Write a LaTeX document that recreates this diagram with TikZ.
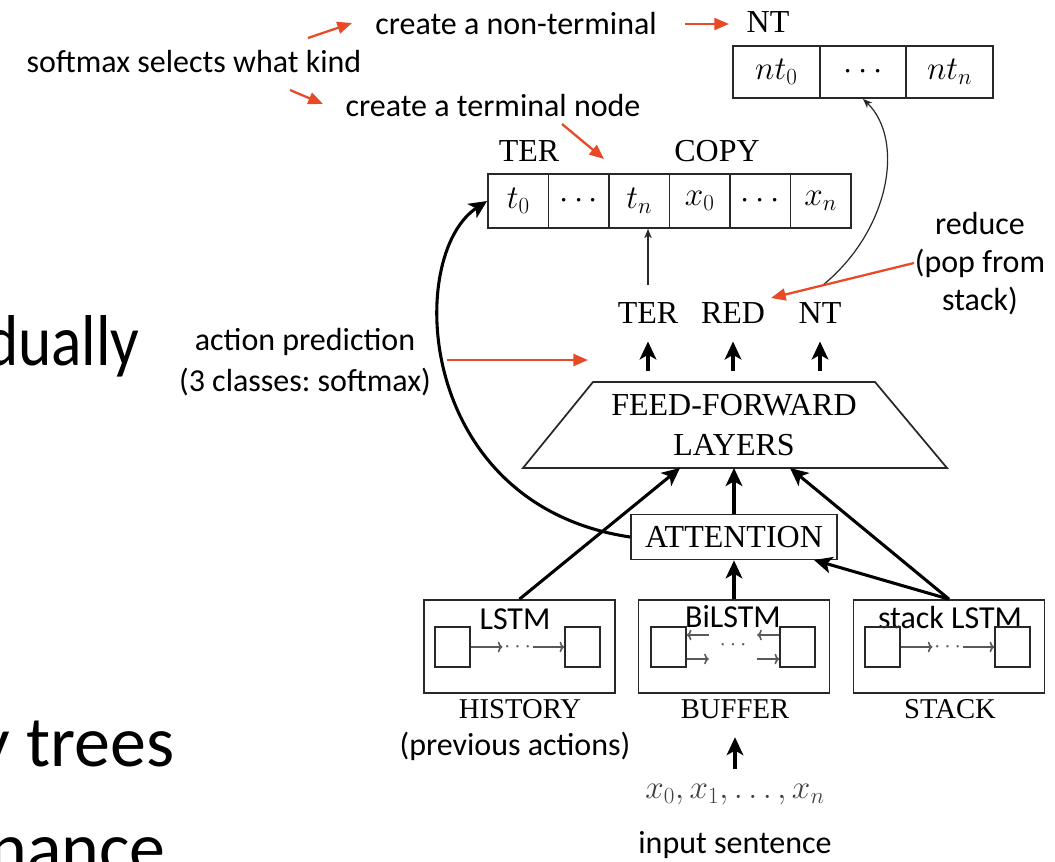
\documentclass[tikz,border=0pt]{standalone}
\usepackage{fontspec}
\setmainfont{Liberation Serif}
\newfontfamily\annfont{Carlito}
\usetikzlibrary{arrows.meta,calc}
\definecolor{annred}{RGB}{232,74,40}
\definecolor{boxgray}{RGB}{40,40,40}
\frenchspacing
\begin{document}
\begin{tikzpicture}[x=0.75pt,y=-0.75pt,
  serif/.style={font=\fontsize{24}{30}\selectfont, inner sep=0pt},
  boxlabel/.style={font=\fontsize{21.5}{24}\selectfont, inner sep=0pt},
  ann/.style={font=\annfont\fontsize{24}{29}\selectfont, inner sep=0pt, align=center},
  slide/.style={font=\annfont\fontsize{54}{60}\selectfont, inner sep=0pt},
  cell/.style={draw=boxgray, line width=1.3pt, minimum width=45.4pt, minimum height=40.5pt, inner sep=0pt, font=\fontsize{24}{26}\selectfont},
  ntcell/.style={cell, minimum width=65pt, minimum height=39pt},
  lstmbox/.style={draw=boxgray, line width=1.3pt, minimum width=143.25pt, minimum height=69.75pt, inner sep=0pt},
  sq/.style={draw=boxgray, line width=1.2pt, minimum width=26.25pt, minimum height=30pt, inner sep=0pt},
  lbl/.style={serif, outer sep=13.5pt},
  bigarrow/.style={line width=2.3pt, -{Stealth[length=13.5pt,width=12.5pt,inset=3.5pt]}},
  thinarrow/.style={line width=0.9pt, draw=boxgray, -{Stealth[length=7pt,width=5.5pt,inset=2pt]}},
  smallarrow/.style={line width=1.2pt, draw=black!65, -{To[length=3.5pt,width=8pt]}},
  redarrow/.style={draw=annred, line width=1.7pt, -{Triangle[length=11pt,width=9pt]}},
  dotsnode/.style={inner sep=1pt, text=black!65, font=\fontsize{18}{18}\selectfont},
]
\useasboundingbox (0,0) rectangle (1055,861);
\clip (0,0) rectangle (1055,861);
\fill[white] (0,0) rectangle (1055,861);

% slide text cut off at the left
\node[slide, anchor=base east] (s1) at (140,365) {\scalebox{0.88}[1]{dually}};
\node[slide, anchor=base east] (s2) at (175,766) {y trees};
\node[slide, anchor=base east] (s3) at (166,872) {nance};

% annotations
\node[ann] (smx) at (194,62) {softmax selects what kind};
\node[ann] (cnt) at (516,24) {create a non-terminal};
\node[ann] (ctn) at (493,106) {create a terminal node};
\node[ann, font=\annfont\fontsize{24}{30.75}\selectfont] (ap) at (305,362) {action prediction\\(3 classes: softmax)};
\node[ann, font=\annfont\fontsize{24}{28.5}\selectfont] (rn) at (980,264) {reduce\\(pop from\\stack)};
\node[ann] (pa) at (515,746) {(previous actions)};
\node[ann] (inp) at (735,845) {input sentence};

% top labels
\node[serif] (ntl) at (768,22) {NT};
\node[serif] (terl) at (529,151) {TER};
\node[serif] (copyl) at (717,151) {COPY};

% NT row
\node[ntcell] (nt0) at (776.3,72) {$nt_0$};
\node[ntcell] (ntd) at (863,72) {$\cdots$};
\node[ntcell] (ntn) at (949.7,72) {$nt_n$};

% TER / COPY row
\node[cell] (t0) at (518.25,201) {$t_0$};
\node[cell] (td) at (578.75,201) {$\cdots$};
\node[cell] (tn) at (639.25,201) {$t_n$};
\node[cell] (x0) at (699.75,201) {$x_0$};
\node[cell] (xd) at (760.25,201) {$\cdots$};
\node[cell] (xn) at (820.75,201) {$x_n$};

% action labels
\node[lbl] (ter) at (648,313) {TER};
\node[lbl] (red) at (733,313) {RED};
\node[lbl] (nt) at (820,313) {NT};

% feed-forward trapezoid
\coordinate (ffTL) at (593,382);
\coordinate (ffTR) at (875,382);
\coordinate (ffBR) at (947,468);
\coordinate (ffBL) at (523,468);
\draw[draw=boxgray, line width=1.3pt] (ffTL) -- (ffTR) -- (ffBR) -- (ffBL) -- cycle;
\node[serif, align=center] (ff) at (734,425) {FEED-FORWARD\\LAYERS};
\coordinate (ffin1) at (680,468);
\coordinate (ffin2) at (734,468);
\coordinate (ffin3) at (790,468);
\coordinate (ffo1) at (648,371);
\coordinate (ffo2) at (733,371);
\coordinate (ffo3) at (820,371);

% attention
\node[serif, draw=boxgray, line width=1.3pt, minimum width=154.5pt, minimum height=33.75pt] (att) at (734,537) {ATTENTION};
\coordinate (attin) at (814,560);

% lower boxes
\node[lstmbox] (hist) at (519.5,646.5) {};
\node[lstmbox] (buf) at (734,646.5) {};
\node[lstmbox] (stk) at (949,646.5) {};
\node[boxlabel] (histl) at (520,709) {HISTORY};
\node[boxlabel, outer sep=14pt] (bufl) at (735,709) {BUFFER};
\node[boxlabel] (stkl) at (950,709) {STACK};
\node[ann] (lstm1) at (515,619) {LSTM};
\node[ann] (lstm2) at (733,617) {BiLSTM};
\node[ann] (lstm3) at (950,617) {stack LSTM};

\node[sq] (hsq1) at (452.5,647) {};
\node[sq] (hsq2) at (582.5,647) {};
\node[sq] (bsq1) at (668.5,647) {};
\node[sq] (bsq2) at (797.5,647) {};
\node[sq] (ssq1) at (882.5,647) {};
\node[sq] (ssq2) at (1012.5,647) {};
\node[dotsnode] (hdots) at (517.5,647) {$\cdots$};
\node[dotsnode] (bdots) at (733,645) {$\cdots$};
\node[dotsnode] (sdots) at (947.5,647) {$\cdots$};
\draw[smallarrow] (hsq1.east) -- (hsq1.east -| hdots.west);
\draw[smallarrow] (hsq2.west -| hdots.east) -- (hsq2.west);
\draw[smallarrow] (ssq1.east) -- (ssq1.east -| sdots.west);
\draw[smallarrow] (ssq2.west -| sdots.east) -- (ssq2.west);
\draw[smallarrow] ($(bsq1.east)+(22,-12)$) -- ($(bsq1.east)+(0,-12)$);
\draw[smallarrow] ($(bsq1.east)+(0,12)$) -- ($(bsq1.east)+(22,12)$);
\draw[smallarrow] ($(bsq2.west)+(0,-12)$) -- ($(bsq2.west)+(-22,-12)$);
\draw[smallarrow] ($(bsq2.west)+(-22,12)$) -- ($(bsq2.west)+(0,12)$);

% input
\node[serif, text=black!75, outer sep=12pt] (xs) at (735,795) {$x_0, x_1, \ldots, x_n$};

% connectors
\draw[bigarrow] (hist.north) -- (ffin1);
\draw[bigarrow] (att.north) -- (ffin2);
\draw[bigarrow] (stk.north) -- (ffin3);
\draw[bigarrow] (buf.north) -- (att.south);
\draw[bigarrow] (stk.north) -- (attin);
\draw[bigarrow] (att.west) .. controls (415,505) and (405,255) .. (t0.west);
\draw[bigarrow] (ffo1) -- (ter);
\draw[bigarrow] (ffo2) -- (red);
\draw[bigarrow] (ffo3) -- (nt);
\draw[bigarrow] (xs) -- (bufl);
\draw[thinarrow] (ter.north) -- (ter.north |- tn.south);
\coordinate (redc) at (823,285);
\draw[thinarrow] (redc) .. controls (890,230) and (905,140) .. (ntd.south);

% red annotation arrows
\coordinate (r1s) at (308,38);  \coordinate (r1e) at (352,23);
\coordinate (r2s) at (685,24);  \coordinate (r2e) at (729,24);
\coordinate (r3s) at (290,90);  \coordinate (r3e) at (323,104);
\coordinate (r4s) at (562,124); \coordinate (r4e) at (604,159);
\coordinate (r5s) at (447,360); \coordinate (r5e) at (588,360);
\coordinate (r6s) at (914,263); \coordinate (r6e) at (771,298);
\draw[redarrow] (r1s) -- (r1e);
\draw[redarrow] (r2s) -- (r2e);
\draw[redarrow] (r3s) -- (r3e);
\draw[redarrow] (r4s) -- (r4e);
\draw[redarrow] (r5s) -- (r5e);
\draw[redarrow] (r6s) -- (r6e);
\end{tikzpicture}
\end{document}
